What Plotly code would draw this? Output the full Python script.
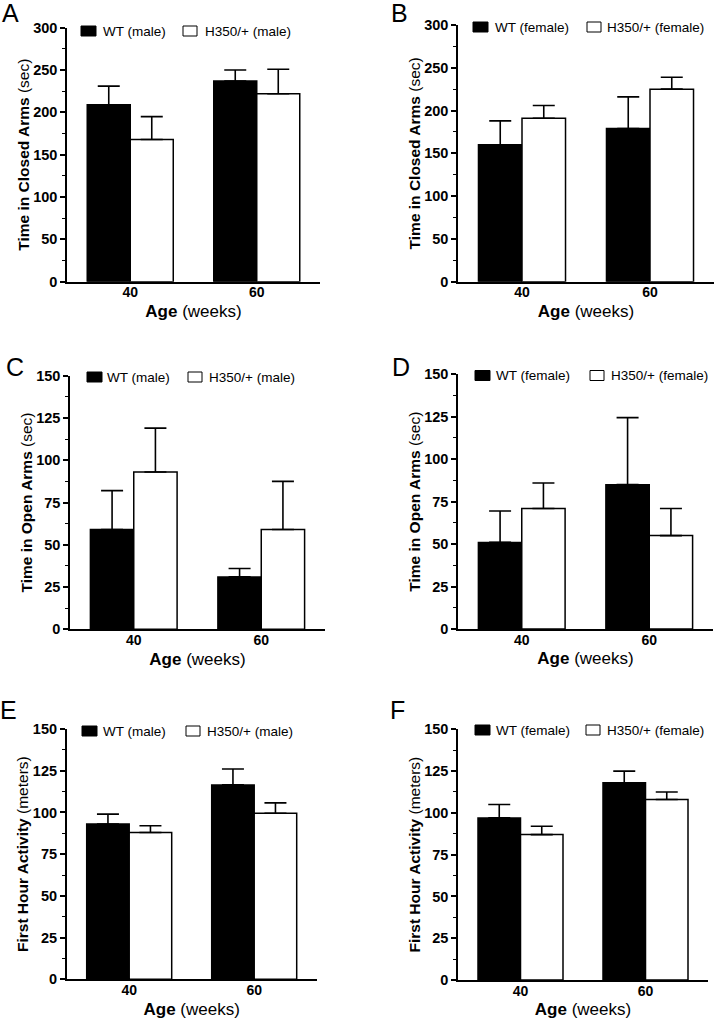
import plotly.graph_objects as go

# ---------------- data ----------------
ages = ["40", "60"]

# A: closed arms, male
a_wt = [209, 237]
a_wt_err = [22, 13]
a_h = [168, 222]
a_h_err = [27, 29]
# B: closed arms, female
b_wt = [160, 179]
b_wt_err = [28, 37]
b_h = [191, 225]
b_h_err = [15, 14]
# C: open arms, male
c_wt = [59, 31]
c_wt_err = [23, 5]
c_h = [93, 59]
c_h_err = [26, 28.5]
# D: open arms, female
d_wt = [51, 85]
d_wt_err = [18.5, 39.5]
d_h = [71, 55]
d_h_err = [15, 16]
# E: first hour activity, male
e_wt = [93, 116.5]
e_wt_err = [6, 9.5]
e_h = [88, 99.5]
e_h_err = [4, 6.2]
# F: first hour activity, female
f_wt = [97, 118]
f_wt_err = [8, 7]
f_h = [87, 108]
f_h_err = [5, 4.5]

panel_letters = ["A", "B", "C", "D", "E", "F"]
y_titles = ["<b>Time in Closed Arms</b> (sec)", "<b>Time in Closed Arms</b> (sec)",
            "<b>Time in Open Arms</b> (sec)", "<b>Time in Open Arms</b> (sec)",
            "<b>First Hour Activity</b> (meters)", "<b>First Hour Activity</b> (meters)"]
x_title = "<b>Age</b> (weeks)"
wt_names = ["WT (male)", "WT (female)"] * 3
h_names = ["H350/+ (male)", "H350/+ (female)"] * 3
y_max = [300, 300, 150, 150, 150, 150]
y_dtick = [50, 50, 25, 25, 25, 25]

panels = [
    (a_wt, a_wt_err, a_h, a_h_err),
    (b_wt, b_wt_err, b_h, b_h_err),
    (c_wt, c_wt_err, c_h, c_h_err),
    (d_wt, d_wt_err, d_h, d_h_err),
    (e_wt, e_wt_err, e_h, e_h_err),
    (f_wt, f_wt_err, f_h, f_h_err),
]

# ---------------- layout geometry (pixels) ----------------
W, H = 715, 1020
# (x_left, x_right, y_top, y_bottom) of each plot area in pixels
boxes = [
    (67, 320, 27.7, 281.7),
    (458, 714, 25, 281.7),
    (70, 325, 375.7, 629.3),
    (458, 713, 374.3, 629),
    (66.7, 316.7, 729, 979.3),
    (458, 708, 729.3, 980),
]
letter_pos = [(10.5, 13.5), (399.5, 13.5), (15, 366.5), (401, 367), (8.5, 709.5), (397.5, 709.5)]
# legend: (black square left, white square left, centre y, wt text left, h text left)
legend_pos = [
    (81, 183, 31, 103, 205),
    (473, 587, 27, 495, 607),
    (87, 188, 377, 107, 209),
    (475, 590, 375.5, 496, 611),
    (82, 186, 731, 103, 207),
    (475, 586, 730, 496, 607),
]

FONT = "Liberation Sans, Arial, Helvetica, sans-serif"

fig = go.Figure()
layout = dict(
    width=W, height=H,
    margin=dict(l=0, r=0, t=0, b=0, autoexpand=False),
    paper_bgcolor="white", plot_bgcolor="white",
    bargap=0.32, bargroupgap=0,
    barmode="group",
    showlegend=False,
    font=dict(family=FONT, color="black"),
    annotations=[],
    shapes=[],
)

for i, (wt, wte, hh, hhe) in enumerate(panels):
    k = "" if i == 0 else str(i + 1)
    xa, ya = "x" + k, "y" + k
    x0, x1, yt, yb = boxes[i]
    err_style = dict(type="data", symmetric=False, arrayminus=[0, 0],
                     color="black", thickness=1.6, width=11)
    fig.add_trace(go.Bar(
        x=ages, y=wt, name=wt_names[i], xaxis=xa, yaxis=ya,
        marker=dict(color="black", line=dict(color="black", width=1.5)),
        error_y=dict(array=wte, **err_style),
    ))
    fig.add_trace(go.Bar(
        x=ages, y=hh, name=h_names[i], xaxis=xa, yaxis=ya,
        marker=dict(color="white", line=dict(color="black", width=1.5)),
        error_y=dict(array=hhe, **err_style),
    ))
    layout["xaxis" + k] = dict(
        domain=[x0 / W, x1 / W], anchor=ya, type="category", automargin=False,
        range=[-0.5, 1.5], showline=True, linecolor="black", linewidth=1.5,
        ticks="", showgrid=False, zeroline=False, ticklabelstandoff=-3,
        tickfont=dict(size=14, weight="bold", family=FONT),
        title=dict(text=x_title, font=dict(size=17, family=FONT), standoff=6),
    )
    layout["yaxis" + k] = dict(
        domain=[1 - yb / H, 1 - yt / H], anchor=xa, automargin=False,
        range=[0, y_max[i]], dtick=y_dtick[i], tick0=0,
        showline=True, linecolor="black", linewidth=1.5,
        ticks="outside", ticklen=5, tickwidth=1.5, tickcolor="black",
        minor=dict(dtick=y_dtick[i] / 2, ticks="outside", ticklen=3,
                   tickwidth=1, tickcolor="black"),
        showgrid=False, zeroline=False,
        tickfont=dict(size=14.5, weight="bold", family=FONT),
        title=dict(text=y_titles[i], font=dict(size=15.5, family=FONT), standoff=0),
    )
    # legend drawn as keys + labels
    bx, wx, cy, tx1, tx2 = legend_pos[i]
    layout["shapes"].append(dict(
        type="rect", xref="paper", yref="paper",
        x0=bx / W, x1=(bx + 15) / W, y0=1 - (cy + 5) / H, y1=1 - (cy - 5) / H,
        fillcolor="black", line=dict(color="black", width=1)))
    layout["shapes"].append(dict(
        type="rect", xref="paper", yref="paper",
        x0=wx / W, x1=(wx + 14) / W, y0=1 - (cy + 5) / H, y1=1 - (cy - 5) / H,
        fillcolor="white", line=dict(color="black", width=1)))
    for tx, name in ((tx1, wt_names[i]), (tx2, h_names[i])):
        layout["annotations"].append(dict(
            text=name, x=(tx - 2) / W, y=1 - cy / H, xref="paper", yref="paper",
            xanchor="left", yanchor="middle", showarrow=False,
            font=dict(size=13.5, family=FONT, color="black")))
    px, py = letter_pos[i]
    layout["annotations"].append(dict(
        text=panel_letters[i], x=px / W, y=1 - py / H, xref="paper", yref="paper",
        xanchor="center", yanchor="middle", showarrow=False,
        font=dict(size=25, family=FONT, color="black"),
    ))

fig.update_layout(**layout)
fig.write_html(
    "out.html",
    config={"displayModeBar": False},
    post_script="document.body.style.margin='0';document.body.style.overflow='hidden';",
)
